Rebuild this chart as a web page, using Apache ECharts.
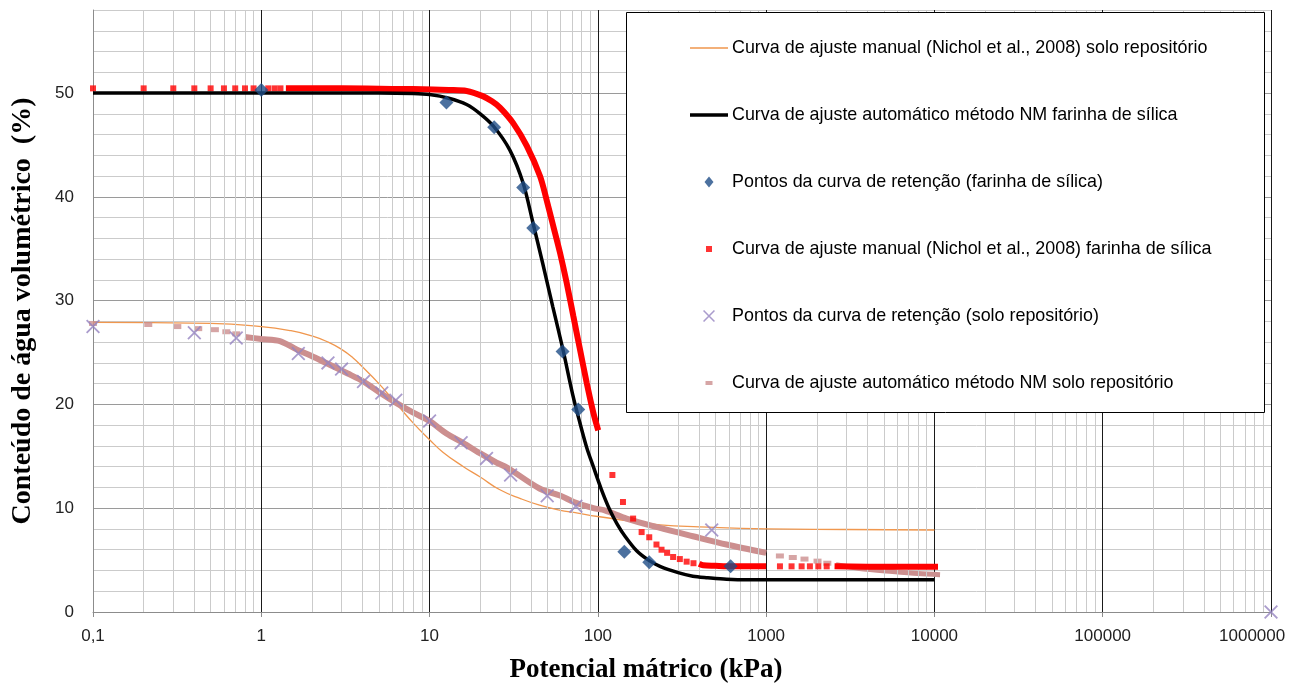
<!DOCTYPE html>
<html>
<head>
<meta charset="utf-8">
<script src="https://cdn.jsdelivr.net/npm/echarts@6/dist/echarts.min.js"></script>
<style>
  html, body { margin: 0; padding: 0; background: #fff; }
  #chart { width: 1293px; height: 686px; }
</style>
</head>
<body>
<div id="chart"></div>
<script>
var chart = echarts.init(document.getElementById("chart"));

// nomes das séries (ordem da legenda)
var names = [
  "Curva de ajuste manual (Nichol et al., 2008) solo repositório",
  "Curva de ajuste automático método NM farinha de sílica",
  "Pontos da curva de retenção (farinha de sílica)",
  "Curva de ajuste manual (Nichol et al., 2008) farinha de sílica",
  "Pontos da curva de retenção (solo repositório)",
  "Curva de ajuste automático método NM solo repositório"
];

// potencial (kPa), teor de água (%)
var soloManual = [
  [0.1, 27.9], [0.5, 27.8], [1, 27.5], [1.5, 27.1], [2, 26.6], [2.5, 26.0],
  [3, 25.3], [3.5, 24.5], [4, 23.6], [5, 22.0], [6.4, 20.0], [8, 18.2],
  [10, 16.6], [12, 15.4], [15.9, 14.0], [20, 13.0], [26, 11.8], [35, 10.9],
  [45, 10.3], [60, 9.8], [72, 9.6], [100, 9.2], [150, 8.8], [234, 8.4],
  [400, 8.2], [1000, 8.0], [3000, 7.95], [10000, 7.9]
];

var silicaAuto = [
  [0.1, 50], [1, 50], [5, 50], [8, 49.95], [10, 49.85], [13, 49.5],
  [16.6, 48.9], [20, 48.0], [24, 46.8], [30, 44.5], [36, 41.3], [41, 37.6],
  [47, 33.6], [54, 29.4], [62, 25.3], [71, 20.9], [78, 18.3], [86, 15.8],
  [94, 14.0], [105, 11.8], [118, 9.8], [130, 8.5], [145, 7.3], [170, 5.9],
  [200, 5.0], [234, 4.4], [300, 3.8], [367, 3.45], [450, 3.3], [582, 3.15],
  [800, 3.1], [1000, 3.1], [10000, 3.1]
];

var silicaPontos = [
  [1, 50.3], [12.6, 49.1], [24.2, 46.7], [36, 40.9], [41.3, 37.0],
  [61.7, 25.1], [76.5, 19.5], [143.6, 5.8], [202, 4.8], [615, 4.4]
];

// pontos isolados da curva manual (farinha de sílica)
var silicaManualDots = [
  [0.1, 50.45], [0.2, 50.45], [0.3, 50.45], [0.4, 50.45], [0.5, 50.45],
  [0.6, 50.45], [0.7, 50.45], [0.8, 50.45], [0.9, 50.45], [1.1, 50.45],
  [1.2, 50.45], [1.3, 50.45],
  [122, 13.2], [141, 10.6], [162, 9.0], [182, 7.7], [202, 7.2], [223, 6.5],
  [239, 6.0], [258, 5.7], [280, 5.3], [307, 5.1], [337, 4.85], [370, 4.7],
  [1208, 4.4], [1416, 4.4], [1625, 4.4], [1820, 4.4], [2042, 4.4], [2290, 4.4]
];
// trechos densos da mesma curva
var silicaManualA = [
  [1.4, 50.45], [3, 50.45], [6, 50.4], [10.5, 50.35], [13, 50.3], [16.6, 50.2],
  [20.7, 49.7], [23.5, 49.2], [26.2, 48.6], [31.4, 47.1], [37.8, 44.9],
  [45.3, 42.0], [49.6, 39.7], [54.3, 37.2], [59.6, 34.6], [65.3, 31.7],
  [71.5, 28.5], [78.3, 25.3], [85.8, 22.1], [94, 19.2], [100.5, 17.5]
];
var silicaManualB = [[400, 4.65], [423, 4.5], [500, 4.45], [582, 4.4], [1000, 4.4]];
var silicaManualC = [[2550, 4.4], [4000, 4.35], [7000, 4.35], [10500, 4.35]];

var soloPontos = [
  [0.1, 27.5], [0.4, 26.9], [0.71, 26.4], [1.66, 24.9], [2.49, 24.0], [3.0, 23.4],
  [4.05, 22.2], [5.2, 21.1], [6.3, 20.4], [10, 18.4], [15.4, 16.3], [21.8, 14.8],
  [30.3, 13.2], [50, 11.2], [74, 10.2], [475, 7.9], [1000000, 0]
];

var soloAutoDots = [
  [0.1, 27.8], [0.213, 27.7], [0.317, 27.5], [0.422, 27.3], [0.53, 27.2],
  [0.62, 27.0], [0.71, 26.8],
  [1207, 5.4], [1440, 5.25], [1690, 5.1], [2020, 4.9], [2310, 4.7]
];
var soloAutoA = [
  [0.8, 26.5], [1, 26.3], [1.29, 26.1], [1.62, 25.3], [2.03, 24.6], [2.57, 23.8],
  [3.24, 23.0], [4.05, 22.2], [5.1, 21.1], [6.4, 20.1], [8, 19.2], [10, 18.4],
  [12.6, 17.2], [15.8, 16.3], [19.9, 15.3], [25, 14.4], [29, 13.9], [45, 11.9],
  [60, 11.2], [72, 10.6], [94, 10.0], [110, 9.8], [148, 9.0], [234, 8.1],
  [367, 7.3], [582, 6.5], [1000, 5.7]
];
var soloAutoB = [[2600, 4.55], [3580, 4.2], [5640, 3.9], [8000, 3.7], [10800, 3.6]];

// linhas secundárias da grade logarítmica
var decades = [0.1, 1, 10, 100, 1000, 10000, 100000];
var minorMult = [2, 3, 4, 5, 6, 7, 8, 9];
var minorLines = [];
decades.forEach(function (d) {
  minorMult.forEach(function (m) {
    minorLines.push({ xAxis: d * m });
  });
});

var red = "#ff0000";
var pink = "#cc8f8f";
var orange = "#f0974e";
var xIcon = "path://M0,1.1L1.1,0L12,10.9L10.9,12ZM10.9,0L12,1.1L1.1,12L0,10.9Z";

chart.setOption({
  animation: false,
  grid: { left: 93, right: 22, top: 10, bottom: 74, outerBoundsMode: "none", containLabel: false },
  xAxis: {
    type: "log",
    logBase: 10,
    min: 0.1,
    max: 1000000,
    splitNumber: 7,
    name: "Potencial mátrico (kPa)",
    nameLocation: "middle",
    nameGap: 45,
    nameTextStyle: {
      fontFamily: "Liberation Serif",
      fontWeight: "bold",
      fontSize: 27,
      color: "#000",
      padding: [0, 72, 0, 0]
    },
    axisLine: { show: true, lineStyle: { color: "#8c8c8c", width: 1 } },
    axisTick: { show: true, length: 5, lineStyle: { color: "#8c8c8c" } },
    axisLabel: {
      margin: 16,
      fontFamily: "Liberation Sans",
      fontSize: 17,
      color: "#222",
      formatter: function (v) {
        var s = String(+Number(v).toPrecision(6)).replace(".", ",");
        // o último rótulo fica deslocado para dentro, como no Excel
        return v >= 999999 ? s + "        " : s;
      }
    },
    splitLine: { show: true, lineStyle: { color: "#1a1a1a", width: 1 } },
    minorTick: { show: false },
    minorSplitLine: { show: false }
  },
  yAxis: {
    type: "value",
    min: 0,
    max: 58,
    interval: 2,
    name: "Conteúdo de água volumétrico  (%)",
    nameLocation: "middle",
    nameGap: 56,
    nameTextStyle: {
      fontFamily: "Liberation Serif",
      fontWeight: "bold",
      fontSize: 28,
      color: "#000"
    },
    axisLine: { show: true, lineStyle: { color: "#8c8c8c", width: 1 } },
    axisTick: { show: false },
    axisLabel: {
      margin: 19,
      fontFamily: "Liberation Sans",
      fontSize: 17,
      color: "#222",
      formatter: function (v) {
        return v % 10 === 0 ? String(v) : "";
      }
    },
    splitLine: {
      show: true,
      showMinLine: true,
      lineStyle: { color: ["#9a9a9a", "#cbcbcb", "#cbcbcb", "#cbcbcb", "#cbcbcb"], width: 1 }
    }
  },
  legend: {
    orient: "vertical",
    left: 690,
    top: 39,
    itemWidth: 38,
    itemHeight: 12,
    itemGap: 49,
    padding: 0,
    selectedMode: false,
    textStyle: { fontFamily: "Liberation Sans", fontSize: 17.9, color: "#000", padding: [0, 0, 0, -1] },
    data: [
      { name: names[0], icon: "path://M0,0ZM38,12ZM0,5.35L38,5.35L38,6.65L0,6.65Z" },
      { name: names[1], icon: "path://M0,0ZM38,12ZM0,4.25L38,4.25L38,7.75L0,7.75Z" },
      { name: names[2], icon: "path://M0,0ZM12,12ZM6,0.5L10.5,6L6,11.5L1.5,6Z" },
      { name: names[3], icon: "path://M0,0ZM12,12ZM3,3L9,3L9,9L3,9Z" },
      { name: names[4], icon: xIcon },
      { name: names[5], icon: "path://M0,0ZM12,12ZM2.5,4L9.5,4L9.5,8L2.5,8Z" }
    ],
    z: 10
  },
  graphic: [
    {
      type: "rect",
      z: 9,
      shape: { x: 626.5, y: 12.5, width: 638, height: 400 },
      style: { fill: "#fff", stroke: "#000", lineWidth: 1 }
    }
  ],
  series: [
    {
      name: "grade",
      type: "line",
      data: [],
      z: 1,
      silent: true,
      markLine: {
        silent: true,
        symbol: ["none", "none"],
        label: { show: false },
        lineStyle: { color: "#cbcbcb", width: 1, type: "solid" },
        emphasis: { disabled: true },
        data: minorLines
      }
    },
    {
      name: names[0],
      type: "line",
      data: soloManual,
      smooth: 0.5,
      symbol: "none",
      lineStyle: { color: orange, width: 1.3 },
      itemStyle: { color: orange },
      z: 3
    },
    {
      name: names[5],
      type: "scatter",
      data: soloAutoDots,
      symbol: "rect",
      symbolSize: [8, 5],
      itemStyle: { color: pink },
      z: 4
    },
    {
      name: names[5],
      type: "line",
      data: soloAutoA,
      smooth: 0.3,
      symbol: "none",
      lineStyle: { color: pink, width: 6 },
      itemStyle: { color: pink },
      z: 4
    },
    {
      name: names[5],
      type: "line",
      data: soloAutoB,
      smooth: 0.3,
      symbol: "none",
      lineStyle: { color: pink, width: 5 },
      itemStyle: { color: pink },
      z: 4
    },
    {
      name: names[4],
      type: "scatter",
      data: soloPontos,
      symbol: xIcon,
      symbolSize: 14,
      itemStyle: { color: "#9583c0" },
      z: 5
    },
    {
      name: names[3],
      type: "scatter",
      data: silicaManualDots,
      symbol: "rect",
      symbolSize: 6,
      itemStyle: { color: red },
      z: 6
    },
    {
      name: names[3],
      type: "line",
      data: silicaManualA,
      smooth: 0.3,
      symbol: "none",
      lineStyle: { color: red, width: 6 },
      itemStyle: { color: red },
      z: 6
    },
    {
      name: names[3],
      type: "line",
      data: silicaManualB,
      smooth: 0.3,
      symbol: "none",
      lineStyle: { color: red, width: 6 },
      itemStyle: { color: red },
      z: 6
    },
    {
      name: names[3],
      type: "line",
      data: silicaManualC,
      symbol: "none",
      lineStyle: { color: red, width: 6 },
      itemStyle: { color: red },
      z: 6
    },
    {
      name: names[1],
      type: "line",
      data: silicaAuto,
      smooth: 0.3,
      symbol: "none",
      lineStyle: { color: "#000", width: 3.5 },
      itemStyle: { color: "#000" },
      z: 7
    },
    {
      name: names[2],
      type: "scatter",
      data: silicaPontos,
      symbol: "diamond",
      symbolSize: 14,
      itemStyle: { color: "#1f4d87" },
      z: 8
    }
  ]
});

window.addEventListener("resize", function () {
  chart.resize();
});
</script>
</body>
</html>
